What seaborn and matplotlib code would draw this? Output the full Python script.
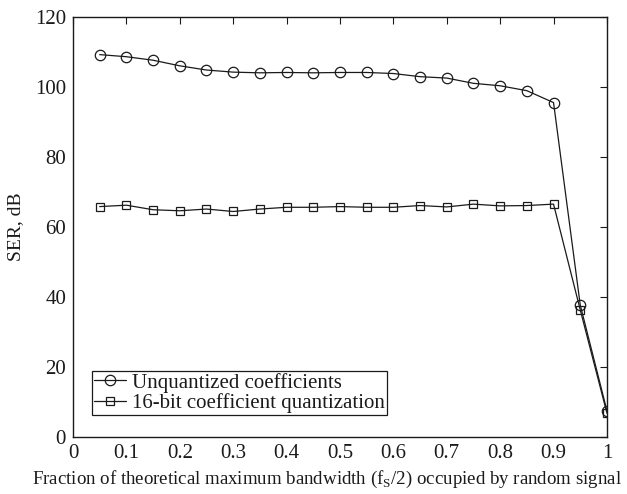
import matplotlib
matplotlib.use("Agg")
import matplotlib.pyplot as plt
import seaborn as sns
import pandas as pd

fraction = [0.05, 0.1, 0.15, 0.2, 0.25, 0.3, 0.35, 0.4, 0.45, 0.5,
            0.55, 0.6, 0.65, 0.7, 0.75, 0.8, 0.85, 0.9, 0.95, 1.0]
unquantized = [109.2, 108.6, 107.6, 106.0, 104.8, 104.2, 104.0, 104.1, 104.0, 104.1,
               104.1, 103.8, 102.9, 102.5, 101.0, 100.3, 98.9, 95.5, 37.7, 7.5]
quant16 = [65.8, 66.2, 64.9, 64.6, 65.1, 64.4, 65.1, 65.6, 65.6, 65.8,
           65.6, 65.6, 66.1, 65.7, 66.5, 66.0, 66.1, 66.5, 36.3, 6.8]
series_labels = ["Unquantized coefficients", "16-bit coefficient quantization"]
xticks = [0, 0.1, 0.2, 0.3, 0.4, 0.5, 0.6, 0.7, 0.8, 0.9, 1]
xtick_labels = ["0", "0.1", "0.2", "0.3", "0.4", "0.5", "0.6", "0.7", "0.8", "0.9", "1"]
yticks = [0, 20, 40, 60, 80, 100, 120]

sns.set_theme(style="white")
plt.rcParams["font.family"] = ["Liberation Serif", "DejaVu Serif"]
plt.rcParams["mathtext.fontset"] = "custom"
plt.rcParams["mathtext.rm"] = "Liberation Serif"

fig = plt.figure(figsize=(6.27, 4.94), dpi=100)
ax = fig.add_axes([0.1164, 0.1154, 0.968 - 0.1164, 0.966 - 0.1154])

df1 = pd.DataFrame({"x": fraction, "y": unquantized})
df2 = pd.DataFrame({"x": fraction, "y": quant16})

common = dict(color="#1a1a1a", linewidth=0.9, markerfacecolor="none",
              markeredgecolor="#1a1a1a", markeredgewidth=0.9)
sns.lineplot(data=df1, x="x", y="y", ax=ax, marker="o", markersize=7.5,
             label=series_labels[0], **common)
sns.lineplot(data=df2, x="x", y="y", ax=ax, marker="s", markersize=5.5,
             label=series_labels[1], **common)

ax.set_xlim(0, 1)
ax.set_ylim(0, 120)
ax.set_xticks(xticks)
ax.set_xticklabels(xtick_labels)
ax.set_yticks(yticks)
ax.tick_params(direction="in", length=5, width=0.8, top=True, right=True,
               labelsize=15, colors="#1a1a1a", pad=5)
for s in ax.spines.values():
    s.set_visible(True)
    s.set_color("#1a1a1a")
    s.set_linewidth(1.0)

ax.set_xlabel(r"Fraction of theoretical maximum bandwidth (f$_{\rm S}$/2) occupied by random signal",
              fontsize=13.6, color="#1a1a1a")
ax.xaxis.set_label_coords(0.476, -0.076)
ax.set_ylabel("SER, dB", fontsize=14, color="#1a1a1a", labelpad=8)

leg = ax.legend(loc="lower left", bbox_to_anchor=(0.036, 0.052), fontsize=15,
                frameon=True, fancybox=False, edgecolor="#1a1a1a", framealpha=1,
                borderpad=0.1, handlelength=1.5, handletextpad=0.3,
                labelspacing=0.02, borderaxespad=0)
leg.get_frame().set_linewidth(0.9)
for t in leg.get_texts():
    t.set_color("#1a1a1a")

fig.savefig("out.png", dpi=100)
